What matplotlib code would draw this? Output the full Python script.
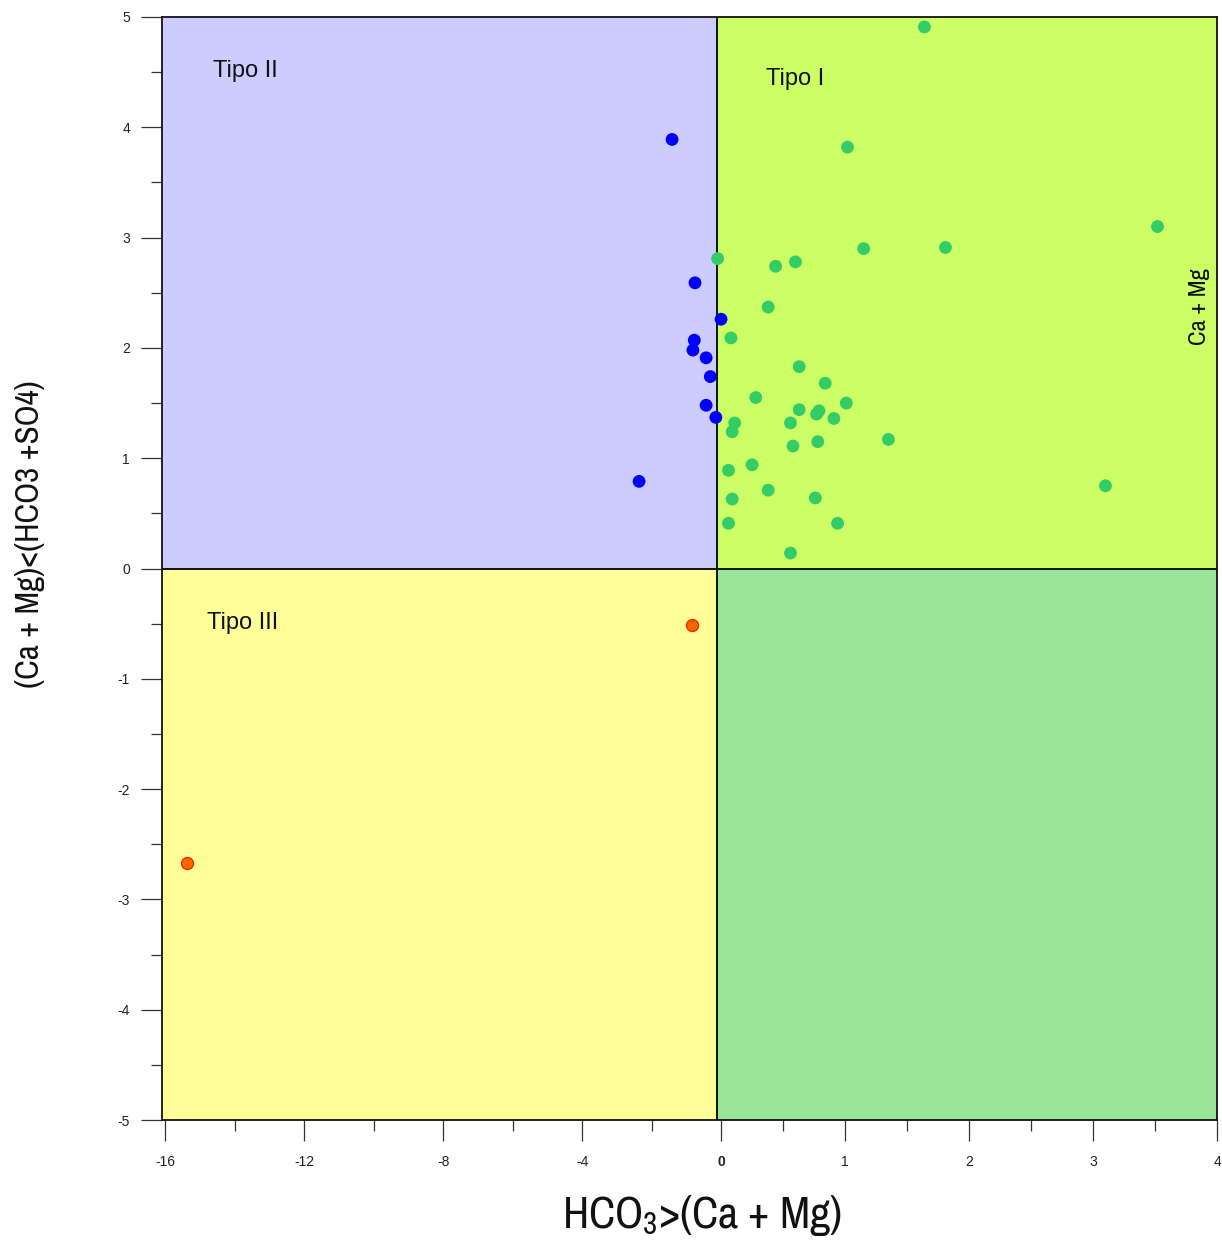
import numpy as np
import matplotlib
matplotlib.use("Agg")
import matplotlib.pyplot as plt
from matplotlib import font_manager as fm
from matplotlib.patches import Rectangle
from matplotlib.ticker import FixedLocator, FixedFormatter

# ---------------- data ----------------
blue_x = [-1.41, -0.75, 0.0, -0.77, -0.81, -0.43, -0.31, -0.43, -0.15, -2.36]
blue_y = [3.89, 2.59, 2.26, 2.07, 1.98, 1.91, 1.74, 1.48, 1.37, 0.79]

green_x = [1.64, 1.02, 3.52, 1.15, 1.81, -0.1, 0.44, 0.60, 0.38, 0.08,
           0.63, 0.84, 0.28, 1.01, 0.63, 0.79, 0.77, 0.91, 0.56, 0.11,
           0.09, 1.35, 0.78, 0.58, 0.25, 0.06, 0.38, 3.10, 0.76, 0.09,
           0.94, 0.06, 0.56]
green_y = [4.91, 3.82, 3.10, 2.90, 2.91, 2.81, 2.74, 2.78, 2.37, 2.09,
           1.83, 1.68, 1.55, 1.50, 1.44, 1.43, 1.40, 1.36, 1.32, 1.32,
           1.24, 1.17, 1.15, 1.11, 0.94, 0.89, 0.71, 0.75, 0.64, 0.63,
           0.41, 0.41, 0.14]

red_x = [-0.83, -15.37]
red_y = [-0.51, -2.67]

xticks_major = [-16, -12, -8, -4, 0, 1, 2, 3, 4]
xtick_labels = ["-16", "-12", "-8", "-4", "0", "1", "2", "3", "4"]
xticks_minor = [-14, -10, -6, -2, 0.5, 1.5, 2.5, 3.5]
yticks_major = [-5, -4, -3, -2, -1, 0, 1, 2, 3, 4, 5]
ytick_labels = ["-5", "-4", "-3", "-2", "-1", "0", "1", "2", "3", "4", "5"]
yticks_minor = [-4.5, -3.5, -2.5, -1.5, -0.5, 0.5, 1.5, 2.5, 3.5, 4.5]

x_label = r"HCO$_3$>(Ca + Mg)"
y_label = "(Ca + Mg)<(HCO3 +SO4)"
right_label = "Ca + Mg"
region_names = ["Tipo II", "Tipo I", "Tipo III"]

# ---------------- fonts ----------------
available = {f.name for f in fm.fontManager.ttflist}
narrow_name = None
for cand in ['Arial Narrow', 'Liberation Sans Narrow', 'Archivo Narrow', 'PT Sans Narrow',
             'Pragati Narrow', 'Roboto Condensed', 'Fira Sans Condensed',
             'IBM Plex Sans Condensed', 'Encode Sans Condensed']:
    if cand in available:
        narrow_name = cand
        break
if narrow_name is None:
    narrow_name = 'DejaVu Sans'
regular_name = 'Liberation Sans' if 'Liberation Sans' in available else 'DejaVu Sans'

plt.rcParams['font.family'] = [regular_name, 'DejaVu Sans']
plt.rcParams['axes.unicode_minus'] = False
plt.rcParams['mathtext.fontset'] = 'custom'
plt.rcParams['mathtext.rm'] = narrow_name
plt.rcParams['mathtext.it'] = narrow_name
plt.rcParams['mathtext.default'] = 'rm'
narrow = [narrow_name, 'DejaVu Sans']

W, H = 1222, 1245
fig = plt.figure(figsize=(W / 100, H / 100), dpi=100)
ax = fig.add_axes([162 / W, 1 - 1120 / H, (1217 - 162) / W, (1120 - 17) / H])

K = 34.75 / 124.0  # compression of the negative half of the x-axis


def fwd(x):
    x = np.asarray(x, dtype=float)
    return np.where(x < 0, x * K, x)


def inv(y):
    y = np.asarray(y, dtype=float)
    return np.where(y < 0, y / K, y)


ax.set_xscale('function', functions=(fwd, inv))
xmin, xmax = -16.09, 4.0
ymin, ymax = -5.0, 5.0
xdiv = -0.115
ax.set_xlim(xmin, xmax)
ax.set_ylim(ymin, ymax)

# quadrants
ax.add_patch(Rectangle((xmin, 0), xdiv - xmin, ymax, facecolor='#CCCCFF', edgecolor='none', zorder=0))
ax.add_patch(Rectangle((xdiv, 0), xmax - xdiv, ymax, facecolor='#CCFF66', edgecolor='none', zorder=0))
ax.add_patch(Rectangle((xmin, ymin), xdiv - xmin, -ymin, facecolor='#FFFF99', edgecolor='none', zorder=0))
ax.add_patch(Rectangle((xdiv, ymin), xmax - xdiv, -ymin, facecolor='#99E699', edgecolor='none', zorder=0))
ax.axvline(xdiv, color='#111111', lw=1.4, zorder=1)
ax.axhline(0, color='#111111', lw=1.4, zorder=1)

# points
ax.scatter(green_x, green_y, s=85, color='#33CC66', edgecolors='none', zorder=3)
ax.scatter(blue_x, blue_y, s=85, color='#0000FF', edgecolors='none', zorder=3)
ax.scatter(red_x, red_y, s=75, color='#FF6600', edgecolors='#EE2200', linewidths=0.9, zorder=3)

# region labels
ax.text(-14.62, 4.51, region_names[0], fontsize=17, ha='left', va='center', color='#111111')
ax.text(0.363, 4.44, region_names[1], fontsize=17, ha='left', va='center', color='#111111')
ax.text(-14.79, -0.49, region_names[2], fontsize=17, ha='left', va='center', color='#111111')

# ticks
ax.xaxis.set_major_locator(FixedLocator(xticks_major))
ax.xaxis.set_major_formatter(FixedFormatter(xtick_labels))
ax.xaxis.set_minor_locator(FixedLocator(xticks_minor))
ax.yaxis.set_major_locator(FixedLocator(yticks_major))
ax.yaxis.set_major_formatter(FixedFormatter(ytick_labels))
ax.yaxis.set_minor_locator(FixedLocator(yticks_minor))
ax.tick_params(axis='both', which='major', direction='out', length=15, width=0.9,
               color='#333333', labelsize=10, labelcolor='#222222')
ax.tick_params(axis='both', which='minor', direction='out', length=8, width=0.9, color='#333333')
ax.tick_params(axis='y', which='major', pad=8)
ax.tick_params(axis='x', which='major', pad=10)
for lab in ax.get_xticklabels():
    if lab.get_text() == "0":
        lab.set_fontweight('bold')

for sp in ax.spines.values():
    sp.set_color('#111111')
    sp.set_linewidth(1.3)
    sp.set_zorder(4)

# axis labels (font size tuned so that each label spans the reference length)
t_x = fig.text(702 / W, 1 - 1215 / H, x_label, fontsize=31, ha='center', va='center',
               family=narrow, color='#111111')
t_y = fig.text(30 / W, 1 - 534 / H, y_label, fontsize=24, ha='center', va='center',
               rotation=90, family=narrow, color='#111111')
t_r = fig.text(1200 / W, 1 - 307 / H, right_label, fontsize=18, ha='center', va='center',
               rotation=90, family=narrow, color='#111111')

renderer = fig.canvas.get_renderer()
for t, target, horiz in [(t_x, 280, True), (t_y, 308, False), (t_r, 77, False)]:
    bb = t.get_window_extent(renderer)
    size = bb.width if horiz else bb.height
    if size > 0:
        t.set_fontsize(t.get_fontsize() * target / size)

fig.savefig('out.png', dpi=100)
